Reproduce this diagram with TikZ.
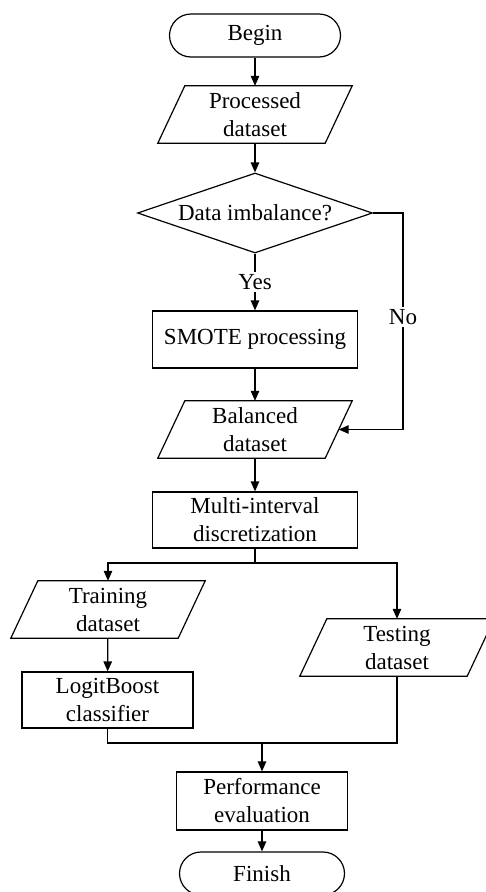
\documentclass[tikz,border=0pt]{standalone}
\usepackage{fontspec}
\setmainfont{Liberation Serif}
\usetikzlibrary{shapes.geometric,arrows.meta,calc}
\newcommand{\paradraw}[1]{\draw[ln] ([xshift=27pt]#1.north west) -- (#1.north east) -- ([xshift=-27pt]#1.south east) -- (#1.south west) -- cycle;}
\begin{document}
\begin{tikzpicture}[x=1pt,y=-1pt,
 ln/.style={line width=1.2pt, line join=miter},
 arr/.style={ln,-{Triangle[length=10pt,width=8.5pt]}},
 txt/.style={font=\fontsize{23}{28}\selectfont, align=center, inner sep=0pt},
 term/.style={txt, draw, ln, rounded corners=21.5pt, minimum height=43pt},
 procbox/.style={txt, draw, ln, minimum width=205pt, minimum height=57pt},
 iobox/.style={txt, minimum width=194pt, minimum height=57pt},
 decbox/.style={txt, draw, ln, diamond, aspect=2.94, minimum width=235pt, minimum height=80pt},
 lbl/.style={txt, fill=white, inner sep=2pt}]
\useasboundingbox (0,0) rectangle (486,892);
\clip (0,0) rectangle (486,892);

\node[term, minimum width=171pt] (begin) at (255,35.5) {Begin};
\node[iobox] (proc) at (255,114.5) {Processed\\dataset};
\paradraw{proc}
\node[decbox] (dec) at (255,213) {Data imbalance?};
\node[procbox] (smote) at (255,339.5) {SMOTE processing};
\node[iobox] (bal) at (255,429.5) {Balanced\\dataset};
\paradraw{bal}
\node[procbox, minimum height=56pt] (multi) at (255,520) {Multi-interval\\discretization};
\node[iobox] (train) at (108,609.5) {Training\\dataset};
\paradraw{train}
\node[iobox] (test) at (397,647.5) {Testing\\dataset};
\paradraw{test}
\node[procbox, minimum width=171pt, minimum height=56pt] (logit) at (107.5,700) {LogitBoost\\classifier};
\node[procbox, minimum width=171pt, minimum height=58pt] (perf) at (262,801) {Performance\\evaluation};
\node[term, minimum width=165pt] (finish) at (262,873.5) {Finish};

\coordinate (nocorner) at (403,213);
\coordinate (balR) at ($(bal.north east)!0.5!([xshift=-27pt]bal.south east)$);
\coordinate (split) at (255,563);
\coordinate (join) at (262,743);

\draw[arr] (begin) -- (proc);
\draw[arr] (proc) -- (dec);
\draw[arr] (dec.south) -- node[lbl, pos=0.5] {Yes} (smote.north);
\draw[arr] (dec.east) -- (nocorner) -- node[lbl, pos=0.48] {No} (nocorner |- balR) -- (balR);
\draw[arr] (smote) -- (bal);
\draw[arr] (bal) -- (multi);
\draw[ln] (multi.south) -- (split);
\draw[arr] (split) -| (train.north);
\draw[arr] (split) -| (test.north);
\draw[arr] (train) -- (logit);
\draw[ln] (logit.south) |- (join);
\draw[ln] (test.south) |- (join);
\draw[arr] (join) -- (perf.north);
\draw[arr] (perf) -- (finish);
\end{tikzpicture}
\end{document}
